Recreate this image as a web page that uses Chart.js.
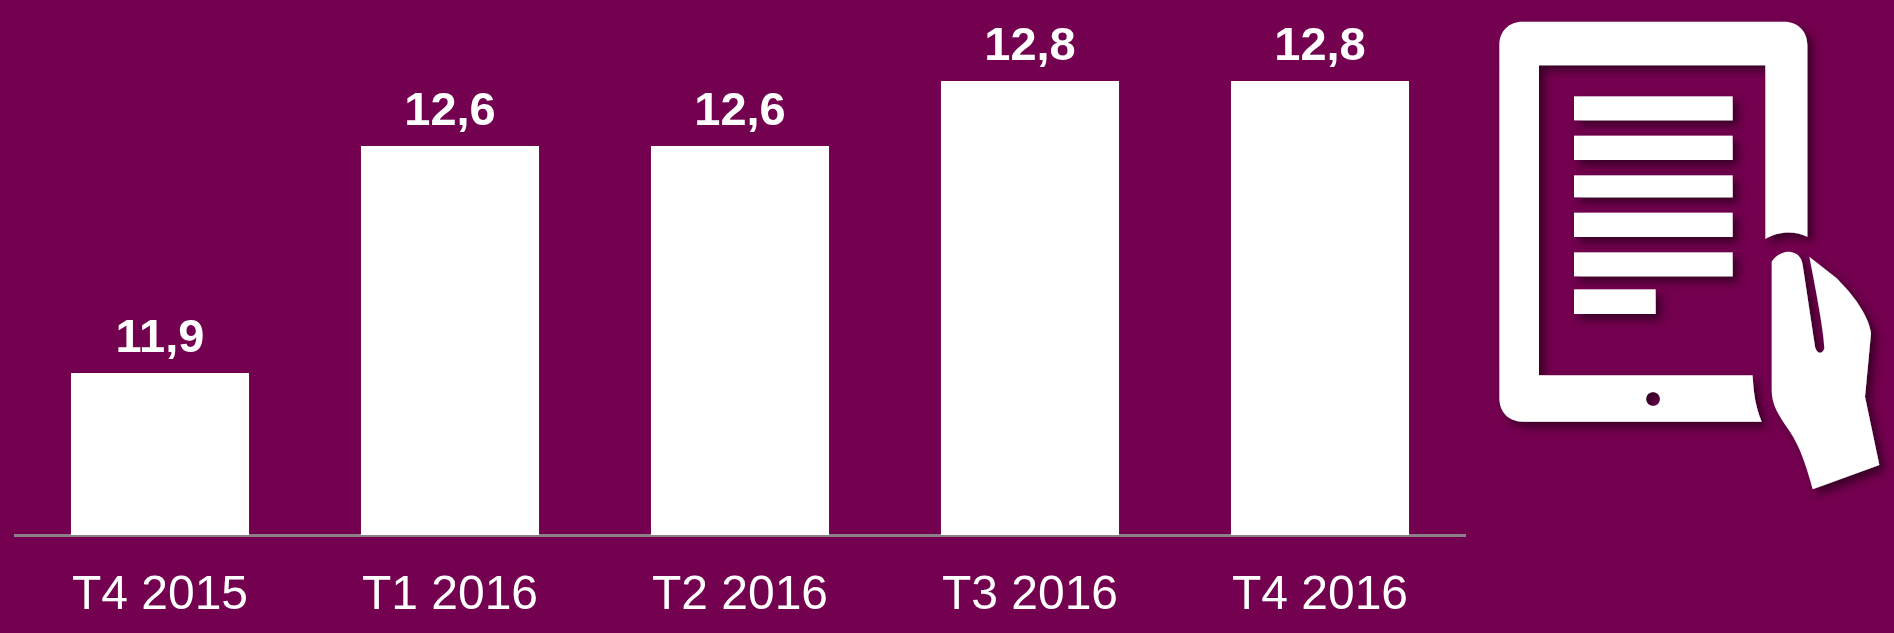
<!DOCTYPE html>
<html>
<head>
<meta charset="utf-8">
<script src="https://cdn.jsdelivr.net/npm/chart.js@4"></script>
<style>
html, body { margin: 0; padding: 0; background: #740050; overflow: hidden; }
#wrap { position: relative; width: 1894px; height: 633px; }
#icon { position: absolute; left: 1470px; top: 0; width: 424px; height: 500px; }
</style>
</head>
<body>
<div id="wrap">
<canvas id="barChart" width="1894" height="633"></canvas>
<!-- tablet icon, not data -->
<svg id="icon" viewBox="0 0 1272 1500">
  <defs>
    <filter id="sh" x="-10%" y="-10%" width="125%" height="125%">
      <feDropShadow dx="16" dy="16" stdDeviation="12" flood-color="#2e0022" flood-opacity="0.85"/>
    </filter>
  </defs>
  <g fill="#fff" filter="url(#sh)">
    <path fill-rule="evenodd" d="M158,65 H942 C985,65 1012,95 1012,135 V710 C975,692 925,692 886,717 V196 H207 V1126 H848 C850,1180 858,1225 875,1265 H158 C115,1265 88,1235 88,1195 V135 C88,95 115,65 158,65 Z M549,1176 a21,21 0 1,0 0.1,0 Z"/>
    <rect x="312" y="289" width="476" height="72"/>
    <rect x="312" y="407" width="476" height="73"/>
    <rect x="312" y="526" width="476" height="66"/>
    <rect x="312" y="638" width="476" height="73"/>
    <rect x="312" y="757" width="476" height="72"/>
    <rect x="312" y="868" width="245" height="74"/>
    <path d="M905,785 C920,762 940,755 958,755 C980,757 995,770 998,795 L1035,1040 C1040,1062 1058,1065 1063,1045 C1062,1000 1040,880 1018,770 L1100,835 C1150,885 1195,945 1203,1000 L1185,1190 L1228,1395 L1028,1468 C1010,1400 990,1340 960,1295 C925,1245 905,1215 905,1170 Z"/>
  </g>
</svg>
</div>
<script>
const categories = ["T4 2015", "T1 2016", "T2 2016", "T3 2016", "T4 2016"];
const values = [11.9, 12.6, 12.6, 12.8, 12.8];

// labels over the bars, comma decimals like the original
const barLabels = {
    id: 'barLabels',
    afterDatasetsDraw(chart) {
        const ctx = chart.ctx;
        ctx.save();
        ctx.font = 'bold 47px "Liberation Sans"';
        ctx.fillStyle = '#ffffff';
        ctx.textAlign = 'center';
        ctx.textBaseline = 'alphabetic';
        chart.getDatasetMeta(0).data.forEach(function (bar, i) {
            ctx.fillText(values[i].toFixed(1).replace('.', ','), bar.x, bar.y - 21);
        });
        ctx.restore();
    }
};

const data = {
    labels: categories,
    datasets: [{
        data: values,
        backgroundColor: '#ffffff',
        borderWidth: 0,
        barPercentage: 0.614,
        categoryPercentage: 1
    }]
};

const config = {
    type: 'bar',
    data: data,
    plugins: [barLabels],
    options: {
        responsive: false,
        animation: false,
        layout: { padding: { left: 15, right: 429, top: 0, bottom: 0 } },
        plugins: {
            legend: false,
            tooltip: { enabled: false }
        },
        scales: {
            x: {
                // keep the axis band at a fixed height so the baseline lands where the original has it
                afterFit(scale) { scale.height = 98; },
                grid: { display: false, drawTicks: false },
                border: { color: '#8c8088', width: 3 },
                ticks: {
                    color: '#ffffff',
                    padding: 32,
                    maxRotation: 0,
                    font: { family: '"Liberation Sans"', size: 48 }
                }
            },
            y: {
                display: false,
                min: 11.4,
                max: 13.05
            }
        }
    }
};

const barChart = new Chart(document.getElementById("barChart"), config);
</script>
</body>
</html>
